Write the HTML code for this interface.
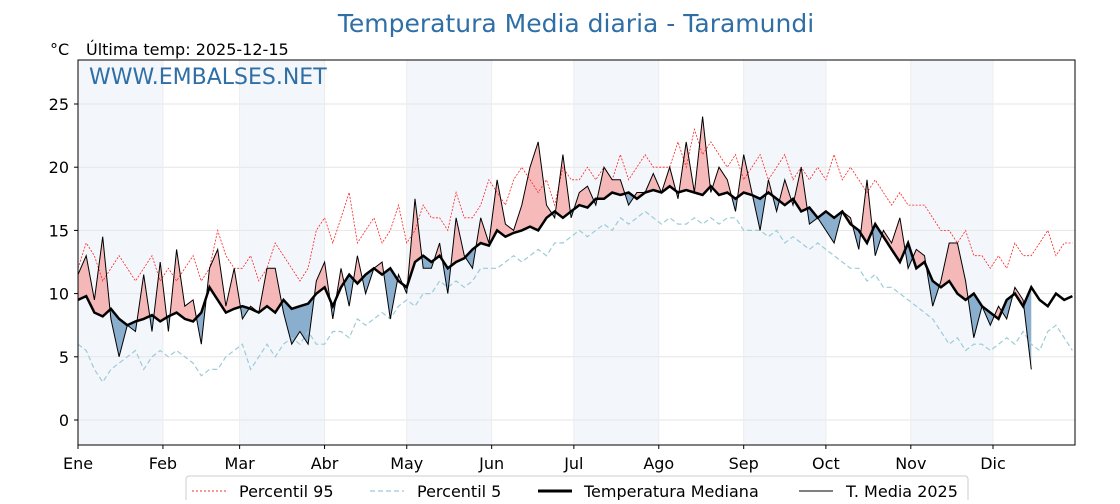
<!DOCTYPE html>
<html><head><meta charset="utf-8"><style>
body{margin:0;background:#fff;width:1120px;height:500px;overflow:hidden;font-family:"DejaVu Sans","Liberation Sans",sans-serif}
</style></head><body>
<svg id="chart" width="1120" height="500" xmlns="http://www.w3.org/2000/svg" font-family="'DejaVu Sans','Liberation Sans',sans-serif">
<text x="576" y="32" text-anchor="middle" font-size="25" fill="#2f6fa6">Temperatura Media diaria - Taramundi</text>
<text x="50" y="55" font-size="16" fill="#000">°C</text>
<text x="86" y="55" font-size="16" fill="#000">Última temp: 2025-12-15</text>
<g id="bands"></g><g id="grid"></g><g id="fills"></g><g id="lines"></g><g id="axes"></g>
<text x="89" y="84" font-size="22" fill="#2f6fa6">WWW.EMBALSES.NET</text>
<g>
<rect x="186" y="476" width="782" height="40" rx="3" fill="#fff" stroke="#ccc"/>
<line x1="192" y1="491" x2="226" y2="491" stroke="#e33" stroke-width="1" stroke-dasharray="2,2"/>
<text x="239" y="497" font-size="16">Percentil 95</text>
<line x1="370" y1="491" x2="404" y2="491" stroke="#9ccbd8" stroke-width="1.2" stroke-dasharray="5,3"/>
<text x="417" y="497" font-size="16">Percentil 5</text>
<line x1="538" y1="491" x2="572" y2="491" stroke="#000" stroke-width="3"/>
<text x="584" y="497" font-size="16">Temperatura Mediana</text>
<line x1="799" y1="491" x2="833" y2="491" stroke="#000" stroke-width="1"/>
<text x="846" y="497" font-size="16">T. Media 2025</text>
</g>
</svg>
<script>
const months=["Ene","Feb","Mar","Abr","May","Jun","Jul","Ago","Sep","Oct","Nov","Dic"];
const monthStarts=[0,31,59,90,120,151,181,212,243,273,304,334];
const yTicks=[0,5,10,15,20,25];
const step=3;
const median=[9.5,9.8,8.5,8.2,8.8,8.0,7.5,7.8,8.0,8.3,7.8,
8.2,8.5,8.0,7.8,8.5,10.5,9.5,8.5,8.8,
9.0,8.8,8.5,9.0,8.5,9.5,8.8,9.0,9.2,10.0,10.5,
9.0,10.5,11.5,10.8,11.5,12.0,11.5,12.0,11.0,10.5,
12.5,13.0,12.5,13.0,12.0,12.5,12.8,13.5,14.0,13.8,
15.0,14.5,14.8,15.0,15.3,15.0,16.0,16.5,16.0,16.5,
17.0,16.8,17.5,17.5,18.0,17.8,18.0,17.5,18.0,18.2,18.0,
18.5,18.0,18.2,18.0,17.8,18.5,17.8,18.0,17.5,18.0,
17.8,17.5,18.0,17.5,17.0,17.5,16.5,16.8,16.0,16.5,
16.0,16.5,15.5,15.0,14.0,15.5,14.5,13.5,12.5,14.0,
12.0,12.5,11.0,10.5,11.0,10.0,9.5,10.0,9.0,8.5,
8.0,9.5,10.0,9.0,10.5,9.5,9.0,10.0,9.5,9.8];
const p95=[12,14,13,11,12,13,12,11,12,13,11,
12,11,12,13,11,12,15,13,12,
12,13,11,12,14,13,12,11,12,15,16,
14,16,18,14,15,16,14,15,17,14,
15,17,16,16,15,18,16,16,17,19,
18,17,19,20,19,18,19,17,20,19,
19,20,19,20,19,21,19,20,21,20,20,
20,22,20,23,21,22,21,20,21,19,
20,21,19,20,21,19,20,19,20,19,
21,19,20,19,18,19,18,17,18,17,
17,17,16,15,15,14,15,13,13,12,
13,12,14,13,13,14,15,13,14,14];
const p5=[6,5.5,4,3,4,4.5,5,5.5,4,5,5.5,
5,5.5,5,4.5,3.5,4,4,5,5.5,
6,4,5,6,5,6,6.5,6,7,6,6,
7,7,6.5,8,7.5,8,8.5,8,9,9.5,
9,10,10,11,10.5,11,10.5,11,12,12,
12,12.5,13,12.5,13,13.5,13,14,14,14.5,
15,14.5,15,15.5,15,16,15.5,16,16.5,16,15.5,
16,15.5,15.5,16,15.5,16,15.5,16,16,15,
15,15,14.5,15,14,14.5,14,13.5,14,13.5,
13,12.5,12,12,11,11.5,10.5,10.5,10,9.5,
9,8.5,8,7,6,6.5,5.5,6,6,5.5,
6,6.5,6,7,6,5.5,7,7.5,6.5,5.5];
const t2025=[11.5,13,9.5,14.5,8,5,7.5,7,11.5,7,12.5,
7,13.5,9,9.5,6,12,13.5,9,12,
8,9,8.5,12,12,8.5,6,7,6,11,12.5,
8,12,9,13,10,12,12.5,8,11.5,10,
17.5,12,12,14,10,16,13,12,16,14,
19,15.5,15,17,20,22,17,16,21,16,
18,18.5,17,20,19,19,17,18,18,19.5,18,
20,17.5,22,18,24,18,20,19,16.5,21,
18,15,19,16.5,19,17,20,15.5,16,15,
14,16.5,16,13.5,19,13,15,14,16,12,
13.5,13,9,11,14,14,11,6.5,9,7.5,
9,8,10.5,9.5,4];

const NS="http://www.w3.org/2000/svg";
const X0=78,X1=1075,Y0=60,Y1=445;
const xS=d=>Math.min(X0+d*2.7395,X1);
const yS=v=>420-v*(420-104)/25;
function mk(tag,attrs,parent){const e=document.createElementNS(NS,tag);for(const k in attrs)e.setAttribute(k,attrs[k]);document.getElementById(parent).appendChild(e);return e;}
monthStarts.forEach((m,i)=>{if(i%2===0){const end=i+1<12?monthStarts[i+1]:365;
const r=mk('rect',{x:xS(m),y:Y0,width:xS(end)-xS(m),height:Y1-Y0,fill:'#f3f7fb'},'bands');

}});
yTicks.forEach(v=>{const l=mk('line',{x1:X0,x2:X1,y1:yS(v),y2:yS(v),stroke:'#e6e6e6','stroke-width':1},'grid');

});
monthStarts.forEach(m=>{const l=mk('line',{x1:xS(m),x2:xS(m),y1:Y0,y2:Y1,stroke:'#ececec','stroke-width':1},'grid');

});
const pts=arr=>arr.map((v,i)=>[xS(i*step),yS(v)]);
const ps=p=>p.map(q=>q[0].toFixed(1)+','+q[1].toFixed(1)).join(' ');
const tp=pts(t2025),mp=pts(median.slice(0,t2025.length));
const poly=ps(tp)+' '+ps(mp.slice().reverse());
const defs=mk('defs',{},'fills');
const cpA=document.createElementNS(NS,'clipPath');cpA.setAttribute('id','above');defs.appendChild(cpA);
const cpB=document.createElementNS(NS,'clipPath');cpB.setAttribute('id','below');defs.appendChild(cpB);
const mAll=pts(median);
const pa=document.createElementNS(NS,'polygon');pa.setAttribute('points',ps(mAll)+` ${X1},${Y0} ${X0},${Y0}`);cpA.appendChild(pa);
const pb=document.createElementNS(NS,'polygon');pb.setAttribute('points',ps(mAll)+` ${X1},${Y1} ${X0},${Y1}`);cpB.appendChild(pb);
const fa=mk('polygon',{points:poly,fill:'#f4a3a3','fill-opacity':0.75,'clip-path':'url(#above)'},'fills');


const fb=mk('polygon',{points:poly,fill:'#6f9bc2','fill-opacity':0.8,'clip-path':'url(#below)'},'fills');


const l95=mk('polyline',{points:ps(pts(p95)),fill:'none',stroke:'#f22','stroke-width':0.8,'stroke-dasharray':'2,1.5'},'lines');


const l5=mk('polyline',{points:ps(pts(p5)),fill:'none',stroke:'#9ccbd8','stroke-width':1.2,'stroke-dasharray':'5,3'},'lines');


const lm=mk('polyline',{points:ps(mAll),fill:'none',stroke:'#000','stroke-width':2.5},'lines');


const lt=mk('polyline',{points:ps(tp),fill:'none',stroke:'#000','stroke-width':1},'lines');


const fr=mk('rect',{x:X0,y:Y0,width:X1-X0,height:Y1-Y0,fill:'none',stroke:'#000','stroke-width':1},'axes');


yTicks.forEach(v=>{mk('line',{x1:X0-4,x2:X0,y1:yS(v),y2:yS(v),stroke:'#000'},'axes');
const t=mk('text',{x:X0-9,y:yS(v)+6,'text-anchor':'end','font-size':16},'axes');t.textContent=v;

});
months.forEach((m,i)=>{const x=xS(monthStarts[i]);mk('line',{x1:x,x2:x,y1:Y1,y2:Y1+4,stroke:'#000'},'axes');
const t=mk('text',{x:x,y:Y1+24,'text-anchor':'middle','font-size':16},'axes');t.textContent=m;

});
</script>
</body></html>
